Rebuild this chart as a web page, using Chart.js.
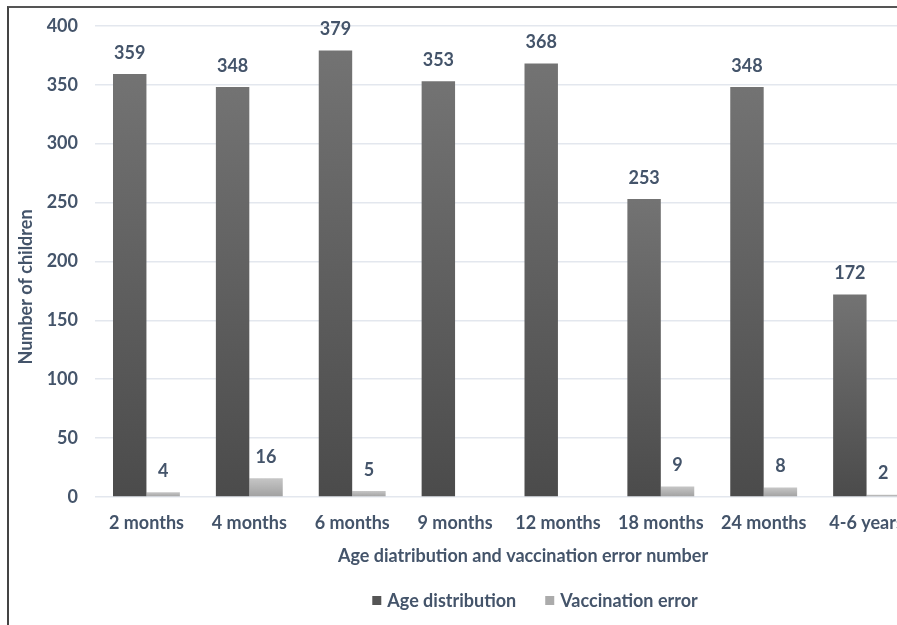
<!DOCTYPE html>
<html>
<head>
<meta charset="utf-8">
<title>Age distribution and vaccination error number</title>
<script src="https://cdn.jsdelivr.net/npm/chart.js@4/dist/chart.umd.min.js"></script>
<style>
  html, body { margin: 0; padding: 0; background: #fff; overflow: hidden; width: 897px; height: 625px; }
  #frame { position: absolute; left: 7px; top: 6px; width: 1000px; height: 640px;
           border-left: 2px solid #444; border-top: 2px solid #555; }
  #wrap { position: absolute; left: 0; top: -10px; width: 930px; height: 627px; }
</style>
</head>
<body>
<div id="frame"><div id="wrap"><canvas id="chart"></canvas></div></div>
<script>
// Age groups on the x axis
const categories = ['2 months', '4 months', '6 months', '9 months', '12 months', '18 months', '24 months', '4-6 years'];
// Number of children in each age group
const ageDistribution = [359, 348, 379, 353, 368, 253, 348, 172];
// Vaccination errors per age group (none recorded for 9 and 12 months)
const vaccinationError = [4, 16, 5, null, null, 9, 8, 2];
// Value axis
const yMin = 0;
const yMax = 400;
const yStep = 50;

const seriesNames = ['Age distribution', 'Vaccination error'];
const xTitle = 'Age diatribution and vaccination error number';
const yTitle = 'Number of children';

const textColor = '#44546a';
const fontFamily = 'Lato, "Open Sans", sans-serif';
const fontSize = 18;

// Vertical gradient for each bar, lighter at the top
function barGradient(top, bottom) {
  return function (ctx) {
    const chart = ctx.chart;
    if (!chart.chartArea || ctx.type !== 'data' || ctx.raw == null) return bottom;
    const y = chart.scales.y;
    const y0 = y.getPixelForValue(ctx.raw);
    const y1 = y.getPixelForValue(0);
    if (!isFinite(y0) || !isFinite(y1) || y1 - y0 < 1) return bottom;
    const g = chart.ctx.createLinearGradient(0, y0, 0, y1);
    g.addColorStop(0, top);
    g.addColorStop(1, bottom);
    return g;
  };
}

const seriesColors = [
  { top: '#737373', bottom: '#4b4b4b', key: '#555555' },
  { top: '#c6c6c6', bottom: '#a0a0a0', key: '#ababab' }
];

// Value labels above bars, axis titles and the legend row
const annotate = {
  id: 'annotate',
  afterDatasetsDraw(chart) {
    const ctx = chart.ctx;
    ctx.save();
    ctx.font = 'bold ' + fontSize + 'px ' + fontFamily;
    ctx.fillStyle = textColor;
    ctx.textAlign = 'center';
    ctx.textBaseline = 'middle';
    chart.data.datasets.forEach((ds, i) => {
      const meta = chart.getDatasetMeta(i);
      meta.data.forEach((bar, j) => {
        const v = ds.data[j];
        if (v == null) return;
        ctx.fillText(String(v), bar.x, bar.y - 21);
      });
    });

    // x axis title
    ctx.fillText(xTitle, 514, 558);

    // y axis title
    ctx.save();
    ctx.translate(17, 289);
    ctx.rotate(-Math.PI / 2);
    ctx.fillText(yTitle, 0, 0);
    ctx.restore();

    // legend
    const box = 9, gap = 6, spacing = 29;
    const widths = seriesNames.map(n => ctx.measureText(n).width);
    const total = widths.reduce((a, w) => a + box + gap + w, 0) + spacing * (seriesNames.length - 1);
    let x = 526 - total / 2;
    const ly = 603;
    ctx.textAlign = 'left';
    seriesNames.forEach((n, i) => {
      ctx.fillStyle = seriesColors[i].key;
      ctx.fillRect(x, ly - box / 2 - 0.5, box, box);
      ctx.fillStyle = textColor;
      ctx.fillText(n, x + box + gap, ly);
      x += box + gap + widths[i] + spacing;
    });
    ctx.restore();
  }
};

new Chart(document.getElementById('chart'), {
  type: 'bar',
  data: {
    labels: categories,
    datasets: [
      {
        label: seriesNames[0],
        data: ageDistribution,
        backgroundColor: barGradient(seriesColors[0].top, seriesColors[0].bottom),
        barPercentage: 1,
        categoryPercentage: 0.65
      },
      {
        label: seriesNames[1],
        data: vaccinationError,
        backgroundColor: barGradient(seriesColors[1].top, seriesColors[1].bottom),
        barPercentage: 1,
        categoryPercentage: 0.65
      }
    ]
  },
  options: {
    responsive: true,
    maintainAspectRatio: false,
    animation: false,
    layout: { padding: { top: 0, right: 21, bottom: 0, left: 0 } },
    plugins: {
      legend: { display: false },
      tooltip: { enabled: false }
    },
    scales: {
      x: {
        grid: { display: false, drawTicks: false },
        border: { display: false },
        ticks: {
          color: textColor,
          font: { family: fontFamily, size: fontSize, weight: 'bold' },
          padding: 15,
          maxRotation: 0,
          autoSkip: false
        },
        afterFit(scale) { scale.height = 128; }
      },
      y: {
        min: yMin,
        max: yMax,
        grid: { color: '#e3e7ee', lineWidth: 1.5, drawTicks: false },
        border: { display: false },
        ticks: {
          stepSize: yStep,
          color: textColor,
          font: { family: fontFamily, size: fontSize, weight: 'bold' },
          padding: 17
        },
        afterFit(scale) { scale.width = 86; }
      }
    }
  },
  plugins: [annotate]
});
</script>
</body>
</html>
